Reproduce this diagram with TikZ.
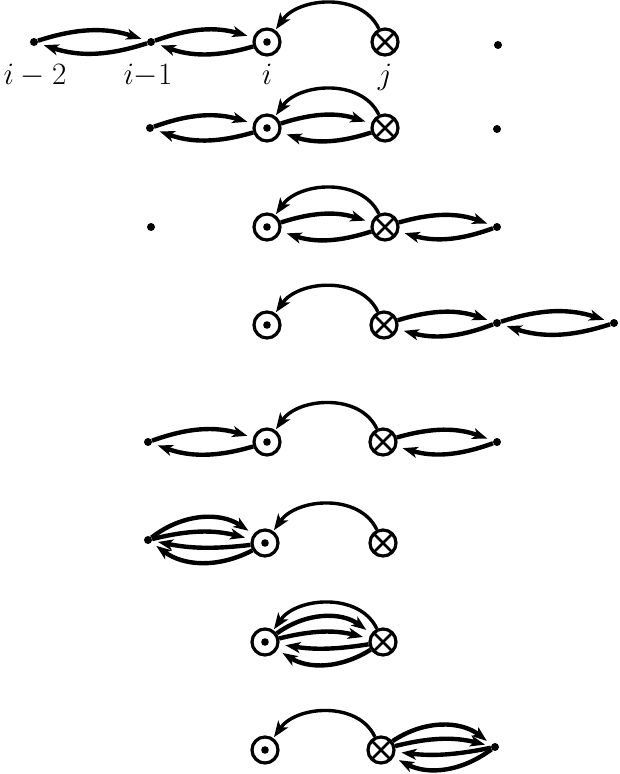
\documentclass[tikz,border=0pt]{standalone}
\usetikzlibrary{arrows.meta}
\newcommand\lenspair[2]{%
  \draw[fw] (#1) to[bend left=18] (#2);
  \draw[fw] (#2) to[bend left=18] (#1);}
\newcommand\fourbundle[2]{%
  \draw[fw] (#1) to[bend left=36] (#2);
  \draw[fw] (#1) to[bend left=14] (#2);
  \draw[fw] (#2) to[bend left=9] (#1);
  \draw[fw] (#2) to[bend left=32] (#1);}
\begin{document}
\begin{tikzpicture}[x=1pt,y=1pt,
  pt/.style={circle,fill=black,inner sep=0pt,minimum size=8pt},
  odot/.style={circle,draw=black,line width=3.2pt,inner sep=0pt,minimum size=26pt,fill=white,
    path picture={\fill[black] (path picture bounding box.center) circle (3.8pt);}},
  otim/.style={circle,draw=black,line width=3.2pt,inner sep=0pt,minimum size=26pt,fill=white,
    path picture={\draw[line width=2.8pt] (path picture bounding box.north west) -- (path picture bounding box.south east) (path picture bounding box.north east) -- (path picture bounding box.south west);}},
  fw/.style={line width=4.4pt,-{Stealth[length=15pt,width=11pt,inset=4pt]},shorten >=6pt},
  hop/.style={line width=3.4pt,-{Stealth[length=16pt,width=12pt,inset=4pt]},shorten >=1pt},
  lbl/.style={anchor=base,inner sep=0pt,font=\Huge,scale=1.25,transform shape}
]
\useasboundingbox (0,0) rectangle (619,774);
% row 1
\node[pt] (a1) at (34,732) {};
\node[pt] (b1) at (151,732) {};
\node[odot] (i1) at (267,732) {};
\node[otim] (j1) at (385,732) {};
\node[pt] (e1) at (498,729) {};
\node[lbl] (la) at (35,689) {$i-2$};
\node[lbl] (lb) at (148,689) {$i{-}1$};
\node[lbl] (li) at (267,689) {$i$};
\node[lbl] (lj) at (385,689) {$j$};
\lenspair{a1}{b1}
\lenspair{b1}{i1}
\draw[hop] (j1) to[out=115,in=55] (i1);
% row 2
\node[pt] (p2) at (150,646) {};
\node[odot] (i2) at (267,646) {};
\node[otim] (j2) at (385,646) {};
\node[pt] (e2) at (497,645) {};
\lenspair{p2}{i2}
\lenspair{i2}{j2}
\draw[hop] (j2) to[out=115,in=55] (i2);
% row 3
\node[pt] (p3) at (151,547) {};
\node[odot] (i3) at (267,547) {};
\node[otim] (j3) at (385,547) {};
\node[pt] (e3) at (497,547) {};
\lenspair{i3}{j3}
\lenspair{j3}{e3}
\draw[hop] (j3) to[out=115,in=55] (i3);
% row 4
\node[odot] (i4) at (267,449) {};
\node[otim] (j4) at (384,449) {};
\node[pt] (e4) at (497,451) {};
\node[pt] (f4) at (614,451) {};
\lenspair{j4}{e4}
\lenspair{e4}{f4}
\draw[hop] (j4) to[out=115,in=55] (i4);
% row 5
\node[pt] (p5) at (148,332) {};
\node[odot] (i5) at (267,332) {};
\node[otim] (j5) at (383,332) {};
\node[pt] (e5) at (497,332) {};
\lenspair{p5}{i5}
\lenspair{j5}{e5}
\draw[hop] (j5) to[out=115,in=55] (i5);
% row 6
\node[pt] (p6) at (148,234) {};
\node[odot] (i6) at (265,231) {};
\node[otim] (j6) at (383,231) {};
\fourbundle{p6}{i6}
\draw[hop] (j6) to[out=115,in=55] (i6);
% row 7
\node[odot] (i7) at (265,132) {};
\node[otim] (j7) at (383,132) {};
\draw[hop] (j7) to[out=115,in=55] (i7);
\fourbundle{i7}{j7}
% row 8
\node[odot] (i8) at (265,24) {};
\node[otim] (j8) at (381,24) {};
\node[pt] (e8) at (495,27) {};
\draw[hop] (j8) to[out=115,in=55] (i8);
\fourbundle{j8}{e8}
\end{tikzpicture}
\end{document}
